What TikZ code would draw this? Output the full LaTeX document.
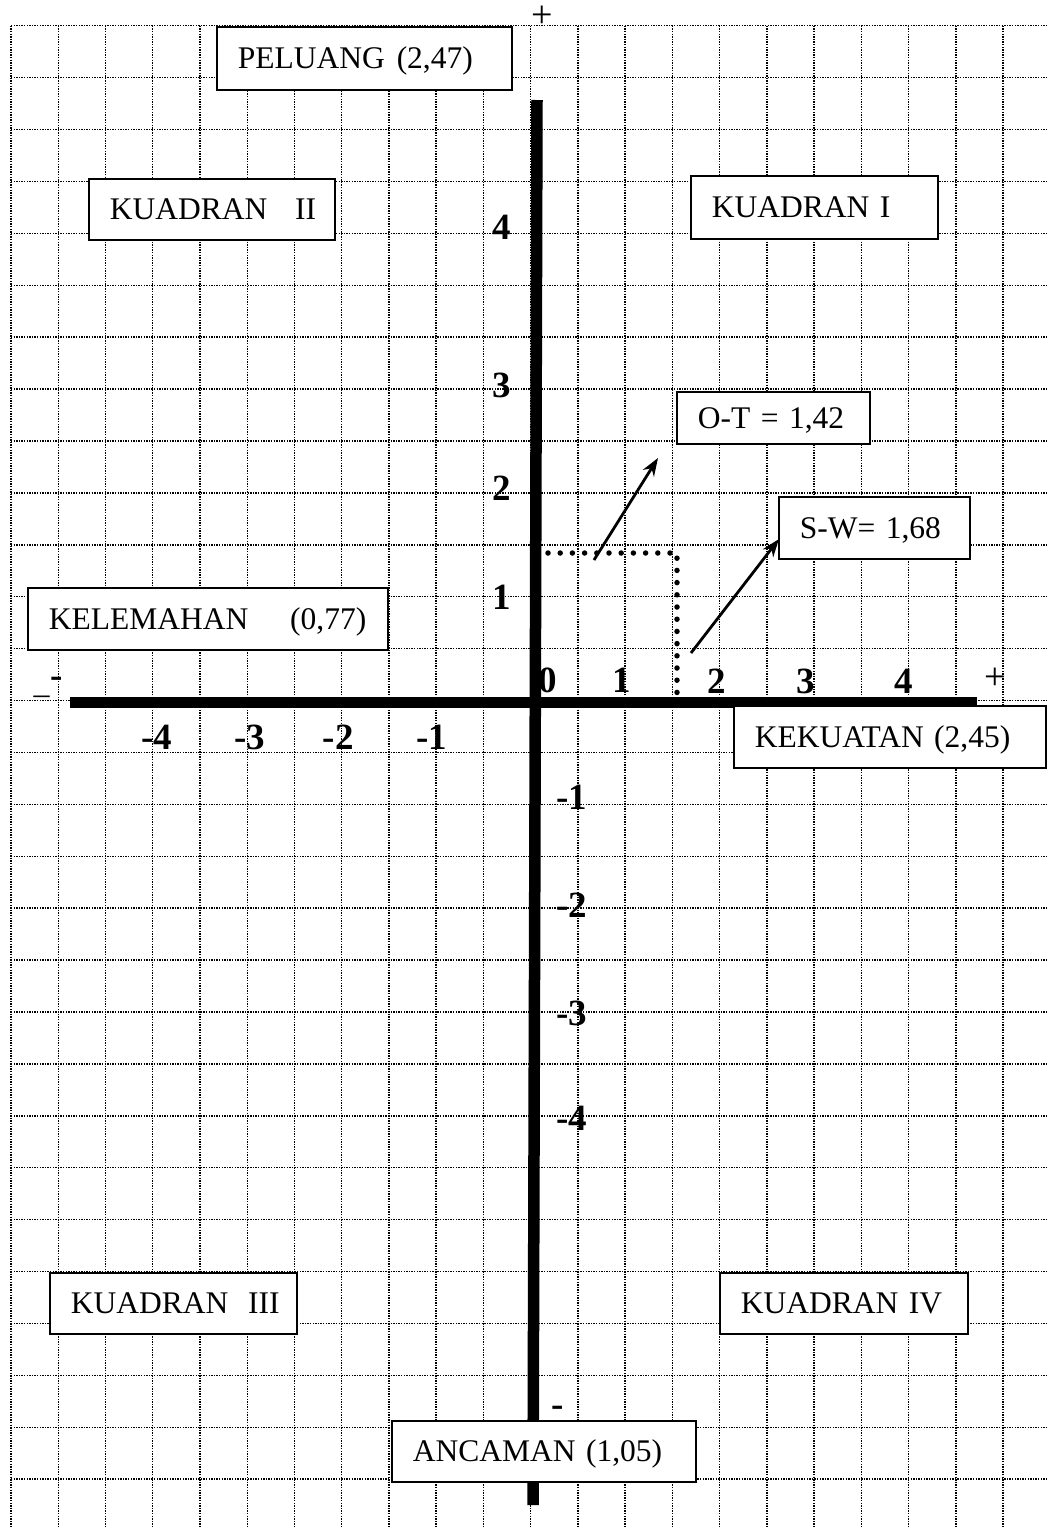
\documentclass[tikz,border=0pt]{standalone}
\usepackage{fontspec}
\setmainfont{Liberation Serif}
\usetikzlibrary{arrows.meta}
\begin{document}
\begin{tikzpicture}[x=1pt,y=-1pt,
  gridline/.style={black, line width=1.4pt, dash pattern=on 1.4pt off 1.2pt},
  axisline/.style={line width=11.5pt},
  lbl/.style={draw, fill=white, line width=1.6pt, font=\fontsize{31.5}{36}\selectfont,
    align=left, inner xsep=21pt, inner ysep=0pt, text height=21pt, text depth=0pt,
    anchor=north west},
  num/.style={font=\fontsize{37}{40}\selectfont\bfseries, inner sep=0pt},
  sign/.style={font=\fontsize{38}{40}\selectfont, inner sep=0pt, text height=20pt, text depth=0pt, anchor=base},
  dotline/.style={line width=5.5pt, line cap=round, dash pattern=on 0pt off 12.2pt},
  arr/.style={line width=2.8pt, -{Stealth[length=18pt,width=13pt]}}]
\useasboundingbox (0,0) rectangle (1047,1527);
% grid
\foreach \k in {0,...,21}{
  \pgfmathsetmacro{\gx}{11+47.24*\k}
  \draw[gridline] (\gx,25.7) -- (\gx,1527);
}
\foreach \j in {0,...,28}{
  \pgfmathsetmacro{\gy}{25.7+51.91*\j}
  \draw[gridline] (11,\gy) -- (1047,\gy);
}
% axes
\coordinate (xl) at (70,702.5);
\coordinate (xr) at (977,702.5);
\coordinate (yt) at (537,100);
\coordinate (yb) at (533,1505);
\draw[axisline] (xl) -- (xr);
\draw[axisline] (yt) -- (yb);
% dotted guide
\coordinate (d1) at (548,553);
\coordinate (d2) at (677,553);
\coordinate (d3) at (677,711);
\draw[dotline] (d1) -- (d2) -- (d3);
% arrows
\coordinate (otS) at (594,560);
\coordinate (otE) at (658,458);
\draw[arr] (otS) -- (otE);
\coordinate (swS) at (691,653);
\coordinate (swE) at (779,539);
\draw[arr] (swS) -- (swE);
% boxes
\node[lbl, text width=253pt, minimum height=63pt] (peluang) at (216,26) {\mbox{PELUANG\hspace{12pt}(2,47)}};
\node[lbl, text width=204pt, minimum height=61pt] (k2) at (88,178) {\mbox{KUADRAN\hspace{28pt}II}};
\node[lbl, text width=205pt, minimum height=63pt] (k1) at (690,175) {\mbox{KUADRAN I}};
\node[lbl, text width=151pt, minimum height=52pt] (ot) at (676,391) {\mbox{O-T = 1,42}};
\node[lbl, text width=149pt, minimum height=62pt] (sw) at (778,496) {\mbox{S-W= 1,68}};
\node[lbl, text width=318pt, minimum height=62pt] (kel) at (27,587) {\mbox{KELEMAHAN\hspace{42pt}(0,77)}};
\node[lbl, text width=270pt, minimum height=62pt] (kek) at (733,705) {\mbox{KEKUATAN (2,45)}};
\node[lbl, text width=205pt, minimum height=61pt] (k3) at (49,1272) {\mbox{KUADRAN\hspace{20pt}III}};
\node[lbl, text width=206pt, minimum height=61pt] (k4) at (719,1272) {\mbox{KUADRAN IV}};
\node[lbl, text width=262pt, minimum height=61pt] (anc) at (391,1420) {\mbox{ANCAMAN (1,05)}};
% y axis numbers
\node[num] (y4) at (502,227.5) {4};
\node[num] (y3) at (502,385.5) {3};
\node[num] (y2) at (501.7,488) {2};
\node[num] (y1) at (502,597.5) {1};
\node[num] (ym1) at (572,797) {-1};
\node[num] (ym2) at (572,905) {-2};
\node[num] (ym3) at (572,1013) {-3};
\node[num] (ym4) at (572,1118) {-4};
% x axis numbers
\node[num] (x0) at (548,680) {0};
\node[num] (x1) at (621.7,680) {1};
\node[num] (x2) at (716.7,681) {2};
\node[num] (x3) at (806,681) {3};
\node[num] (x4) at (903.3,681) {4};
\node[num] (xm4) at (156.7,737) {-4};
\node[num] (xm3) at (250,737) {-3};
\node[num] (xm2) at (338.3,737) {-2};
\node[num] (xm1) at (431.7,737) {-1};
% signs
\node[sign] (ptop) at (542.5,27) {+};
\node[sign] (pright) at (995.5,689) {+};
\node[num] (mbot) at (558,1411) {-};
\node[num] (mleft) at (56.7,682) {-};
\node[font=\fontsize{32}{36}\selectfont, inner sep=0pt, anchor=base] (uleft) at (41.7,693.5) {\_};
\end{tikzpicture}
\end{document}
